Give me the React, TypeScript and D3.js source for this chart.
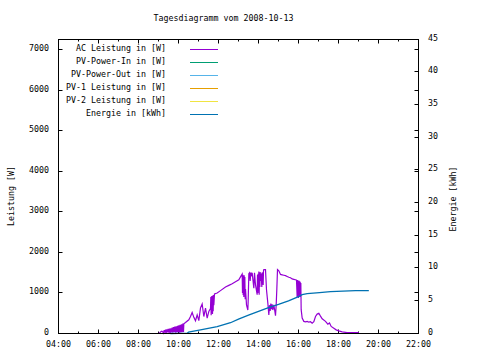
import React from "react";
import * as d3 from "d3";

const title = "Tagesdiagramm vom 2008-10-13";
const xTickLabels = ["04:00", "06:00", "08:00", "10:00", "12:00", "14:00", "16:00", "18:00", "20:00", "22:00"];
const xMinorHours = [5, 7, 9, 11, 13, 15, 17, 19, 21];
const yTicks = [0, 1000, 2000, 3000, 4000, 5000, 6000, 7000];
const y2Ticks = [0, 5, 10, 15, 20, 25, 30, 35, 40, 45];
const legendLabels = [
  "AC Leistung in [W]",
  "PV-Power-In in [W]",
  "PV-Power-Out in [W]",
  "PV-1 Leistung in [W]",
  "PV-2 Leistung in [W]",
  "Energie in [kWh]",
];
const seriesColors = ["#9400d3", "#009e73", "#56b4e9", "#e69f00", "#f0e442", "#0072b2"];

// AC Leistung [W]
const acPower: [string, number][] = [
  ["09:00", 5], ["09:04", 20], ["09:07", 45], ["09:10", 55], ["09:13", 40],
  ["09:15", 10], ["09:17", 85], ["09:19", 20], ["09:21", 95], ["09:23", 15], ["09:25", 105],
  ["09:27", 25], ["09:29", 112], ["09:31", 20], ["09:33", 120], ["09:35", 15], ["09:37", 130],
  ["09:39", 25], ["09:41", 145], ["09:43", 20], ["09:45", 160], ["09:47", 30], ["09:49", 170],
  ["09:51", 20], ["09:53", 180], ["09:55", 25], ["09:57", 190], ["09:59", 30], ["10:01", 200],
  ["10:03", 20], ["10:05", 215], ["10:07", 25], ["10:09", 230], ["10:11", 30], ["10:13", 245],
  ["10:15", 35], ["10:16", 240],
  ["10:21", 270], ["10:31", 340], ["10:36", 420], ["10:41", 520], ["10:46", 400], ["10:51", 315],
  ["10:56", 460], ["11:01", 320], ["11:06", 630], ["11:11", 730], ["11:16", 420], ["11:21", 630],
  ["11:26", 380], ["11:31", 545], ["11:36", 620], ["11:37", 900], ["11:38", 450], ["11:39", 920],
  ["11:40", 500], ["11:41", 930], ["11:42", 480], ["11:43", 940], ["11:44", 550], ["11:45", 950],
  ["11:46", 700], ["11:48", 980], ["11:56", 1000], ["12:06", 1060], ["12:21", 1150], ["12:31", 1190],
  ["12:41", 1230], ["12:51", 1280], ["13:01", 1330], ["13:06", 1400], ["13:11", 1470],
  ["13:12", 1000], ["13:13", 1450], ["13:14", 950], ["13:15", 1430], ["13:16", 900], ["13:17", 1440],
  ["13:18", 1000], ["13:19", 1400], ["13:20", 850], ["13:21", 1100], ["13:24", 710], ["13:28", 580],
  ["13:29", 800], ["13:31", 1480], ["13:33", 1500], ["13:35", 1300], ["13:37", 1510], ["13:39", 1450],
  ["13:41", 1500], ["13:46", 1120], ["13:48", 1500], ["13:51", 1200], ["13:56", 960], ["13:57", 1450],
  ["13:58", 1000], ["13:59", 1480], ["14:00", 1050], ["14:01", 1530], ["14:02", 960], ["14:03", 1500],
  ["14:04", 1150], ["14:05", 1520], ["14:06", 1300], ["14:08", 1480], ["14:10", 1150], ["14:11", 1510],
  ["14:13", 1450], ["14:14", 1200], ["14:15", 1550], ["14:16", 1580], ["14:21", 1580], ["14:24", 1080],
  ["14:28", 750], ["14:31", 460], ["14:33", 700], ["14:35", 560], ["14:37", 740], ["14:39", 600],
  ["14:41", 720], ["14:43", 580], ["14:46", 710], ["14:49", 550], ["14:51", 440], ["14:53", 700],
  ["14:55", 1100], ["14:57", 1580], ["15:01", 1550], ["15:06", 1460], ["15:11", 1450], ["15:16", 1440],
  ["15:21", 1430], ["15:26", 1410], ["15:31", 1390], ["15:36", 1380], ["15:41", 1350], ["15:46", 1340],
  ["15:51", 1330], ["15:54", 1320],
  ["15:56", 900], ["15:57", 1320], ["15:58", 920], ["15:59", 1300], ["16:00", 880], ["16:01", 1310],
  ["16:02", 950], ["16:03", 1290], ["16:04", 900], ["16:05", 1280], ["16:06", 950], ["16:07", 1250],
  ["16:08", 590], ["16:11", 380], ["16:16", 300], ["16:21", 290], ["16:26", 300], ["16:31", 280],
  ["16:36", 290], ["16:41", 255], ["16:46", 290], ["16:51", 420], ["16:56", 480], ["17:01", 500],
  ["17:06", 430], ["17:11", 365], ["17:21", 300], ["17:28", 230], ["17:33", 260], ["17:38", 175],
  ["17:46", 130], ["17:53", 90], ["18:01", 65], ["18:11", 40], ["18:21", 30], ["18:26", 25],
  ["19:01", 25],
];

// Energie [kWh]
const energy: [string, number][] = [
  ["09:36", 0], ["10:26", 0.05], ["10:30", 0.2], ["11:06", 0.55], ["11:56", 1.05], ["12:36", 1.65],
  ["13:00", 2.2], ["13:30", 2.8], ["14:00", 3.4], ["14:30", 3.95], ["15:00", 4.45], ["15:30", 5.0],
  ["16:00", 5.65], ["16:11", 5.95], ["16:26", 6.1], ["17:03", 6.26], ["17:36", 6.41], ["18:51", 6.57],
  ["19:31", 6.57],
];

const W = 480;
const H = 360;
const L = 58.5, R = 418.5, T = 39.5, B = 333.5;
const FONT = "'DejaVu Sans Mono', monospace";
const FS = 8.3;

const toHours = (s: string) => {
  const [h, m] = s.split(":").map(Number);
  return h + m / 60;
};

export default function App() {
  const x = d3.scaleLinear().domain([4, 22]).range([L, R]);
  const y = d3.scaleLinear().domain([0, 7270]).range([B, T]);
  const y2 = d3.scaleLinear().domain([0, 45]).range([B, T]);

  const acLine = d3
    .line<[string, number]>()
    .x((d) => x(toHours(d[0])))
    .y((d) => y(d[1]))(acPower) as string;
  const enLine = d3
    .line<[string, number]>()
    .x((d) => x(toHours(d[0])))
    .y((d) => y2(d[1]))(energy) as string;

  const majorX = xTickLabels.map(toHours);

  return (
    <svg
      width={W}
      height={H}
      style={{ position: "absolute", left: 0, top: 0, background: "#fff" }}
      fontFamily={FONT}
      fontSize={FS}
    >
      <rect x={0} y={0} width={W} height={H} fill="#fff" />
      <text x={223.5} y={20.5} textAnchor="middle">{title}</text>

      {/* x ticks */}
      {majorX.map((h, i) => (
        <g key={"xm" + i}>
          <line x1={x(h)} x2={x(h)} y1={B} y2={B - 4} stroke="#000" />
          <line x1={x(h)} x2={x(h)} y1={T} y2={T + 4} stroke="#000" />
          <text x={x(h)} y={347} textAnchor="middle">{xTickLabels[i]}</text>
        </g>
      ))}
      {xMinorHours.map((h, i) => (
        <g key={"xn" + i}>
          <line x1={x(h)} x2={x(h)} y1={B} y2={B - 2} stroke="#000" />
          <line x1={x(h)} x2={x(h)} y1={T} y2={T + 2} stroke="#000" />
        </g>
      ))}

      {/* y ticks (left + mirrored) */}
      {yTicks.map((v, i) => {
        const yy = Math.round(y(v)) + 0.5 - 1;
        return (
          <g key={"y" + i}>
            <line x1={L} x2={L + 4} y1={yy} y2={yy} stroke="#000" />
            <line x1={R} x2={R - 4} y1={yy} y2={yy} stroke="#000" />
            <text x={49} y={y(v) + 1} textAnchor="end">{v}</text>
          </g>
        );
      })}

      {/* y2 ticks */}
      {y2Ticks.map((v, i) => {
        const yy = Math.round(y2(v)) + 0.5 - 1;
        return (
          <g key={"y2" + i}>
            <line x1={R} x2={R - 4} y1={yy} y2={yy} stroke="#000" />
            <text x={428} y={y2(v) + 1} textAnchor="start">{v}</text>
          </g>
        );
      })}

      <text transform="translate(14,196) rotate(-90)" textAnchor="middle">Leistung [W]</text>
      <text transform="translate(456,199) rotate(-90)" textAnchor="middle">Energie [kWh]</text>

      {/* data */}
      <path d={acLine} fill="none" stroke={seriesColors[0]} strokeWidth={1.2} />
      <path d={enLine} fill="none" stroke={seriesColors[5]} strokeWidth={1.3} />

      {/* legend */}
      {legendLabels.map((lab, i) => {
        const ly = 49 + i * 13;
        return (
          <g key={"lg" + i}>
            <text x={166} y={ly + 1.5} textAnchor="end">{lab}</text>
            <line x1={190} x2={218} y1={ly + 0.5} y2={ly + 0.5} stroke={seriesColors[i]} strokeWidth={1} />
          </g>
        );
      })}

      <rect x={L} y={T} width={R - L} height={B - T} fill="none" stroke="#000" strokeWidth={1} />
    </svg>
  );
}
